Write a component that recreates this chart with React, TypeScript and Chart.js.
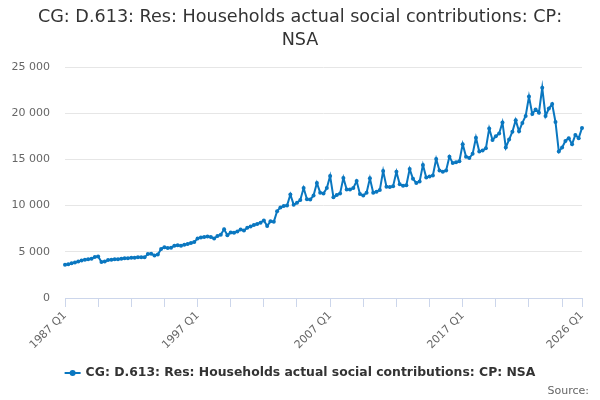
import React, { useEffect, useRef } from "react";
import { Chart, registerables } from "chart.js";

Chart.register(...registerables);

const TITLE_LINES = ["CG: D.613: Res: Households actual social contributions: CP:", "NSA"];
const SERIES_NAME = "CG: D.613: Res: Households actual social contributions: CP: NSA";
const SOURCE_TEXT = "Source:";

const FIRST_YEAR = 1987;
const LAST_YEAR = 2026;
const LAST_QUARTER = 1;

const quarterLabels: string[] = [];
for (let y = FIRST_YEAR; y <= LAST_YEAR; y++) {
  for (let q = 1; q <= 4; q++) {
    if (y === LAST_YEAR && q > LAST_QUARTER) break;
    quarterLabels.push(`${y} Q${q}`);
  }
}

const seriesValues = [
  3600, 3650, 3750, 3850, 3950, 4050, 4150, 4200, 4250, 4450,
  4500, 3900, 3950, 4100, 4150, 4200, 4200, 4250, 4300, 4300,
  4350, 4350, 4400, 4400, 4400, 4750, 4800, 4600, 4700, 5300,
  5500, 5400, 5450, 5650, 5700, 5650, 5750, 5850, 5950, 6050,
  6450, 6550, 6600, 6650, 6600, 6450, 6700, 6850, 7450, 6800,
  7100, 7050, 7200, 7400, 7300, 7600, 7750, 7900, 8000, 8150,
  8400, 7800, 8300, 8250, 9400, 9800, 9950, 10000, 11200, 10100,
  10300, 10600, 11900, 10700, 10650, 11100, 12450, 11400, 11300, 11900,
  13200, 10900, 11150, 11300, 13000, 11750, 11750, 11900, 12650, 11250,
  11100, 11400, 12950, 11400, 11500, 11700, 13750, 12050, 12000, 12100,
  13650, 12300, 12150, 12200, 13950, 12900, 12450, 12600, 14400, 13050,
  13150, 13250, 15050, 13800, 13650, 13800, 15300, 14600, 14700, 14800,
  16650, 15300, 15150, 15600, 17350, 15850, 15950, 16200, 18350, 17100,
  17500, 17800, 19000, 16300, 17150, 18000, 19250, 18050, 18950, 19700,
  21800, 19900, 20400, 20050, 22750, 19700, 20500, 21000, 19050, 15850,
  16300, 17000, 17300, 16650, 17650, 17300, 18400,
];

const Y_TICKS = [0, 5000, 10000, 15000, 20000, 25000];
const X_TICK_LABELS = [
  "1987 Q1", "1989 Q3", "1992 Q1", "1994 Q3", "1997 Q1", "1999 Q3", "2002 Q1", "2004 Q3",
  "2007 Q1", "2009 Q3", "2012 Q1", "2014 Q3", "2017 Q1", "2019 Q3", "2022 Q1", "2024 Q3", "2026 Q1",
];
const X_SHOWN_LABELS = ["1987 Q1", "1997 Q1", "2007 Q1", "2017 Q1", "2026 Q1"];

const LINE_COLOR = "#0a77c0";
const FONT = '"DejaVu Sans", sans-serif';

function formatThousands(v: number): string {
  return String(v).replace(/\B(?=(\d{3})+(?!\d))/g, " ");
}

const textPlugin = {
  id: "textPlugin",
  afterDraw(chart: any) {
    const ctx = chart.ctx;
    ctx.save();
    ctx.fillStyle = "#333333";
    ctx.font = `17.6px ${FONT}`;
    ctx.textAlign = "center";
    ctx.textBaseline = "middle";
    TITLE_LINES.forEach((line, i) => ctx.fillText(line, 300, 17 + i * 23));

    ctx.font = `bold 12.4px ${FONT}`;
    const w = ctx.measureText(SERIES_NAME).width;
    const total = 16 + 5 + w;
    const x0 = 300 - total / 2;
    const ly = 373;
    ctx.strokeStyle = LINE_COLOR;
    ctx.lineWidth = 2;
    ctx.beginPath();
    ctx.moveTo(x0, ly);
    ctx.lineTo(x0 + 16, ly);
    ctx.stroke();
    ctx.fillStyle = LINE_COLOR;
    ctx.beginPath();
    ctx.arc(x0 + 8, ly, 3, 0, Math.PI * 2);
    ctx.fill();
    ctx.fillStyle = "#333333";
    ctx.textAlign = "left";
    ctx.fillText(SERIES_NAME, x0 + 21, ly);

    ctx.font = `11px ${FONT}`;
    ctx.fillStyle = "#666666";
    ctx.textAlign = "right";
    ctx.fillText(SOURCE_TEXT, 589, 391);
    ctx.restore();
  },
};

export default function App() {
  const canvasRef = useRef<HTMLCanvasElement | null>(null);

  useEffect(() => {
    document.body.style.margin = "0";
    const canvas = canvasRef.current;
    if (!canvas) return;
    const chart = new Chart(canvas, {
      type: "line",
      data: {
        labels: quarterLabels,
        datasets: [
          {
            label: SERIES_NAME,
            data: seriesValues,
            borderColor: LINE_COLOR,
            backgroundColor: LINE_COLOR,
            borderWidth: 2,
            pointRadius: 2,
            pointBorderWidth: 0,
            pointBackgroundColor: LINE_COLOR,
            pointHoverRadius: 0,
            tension: 0,
          },
        ],
      },
      options: {
        animation: false,
        responsive: false,
        events: [],
        layout: { padding: { top: 67, right: 18, bottom: 50, left: 0 } },
        plugins: {
          legend: { display: false },
          title: { display: false },
          tooltip: { enabled: false },
        },
        scales: {
          x: {
            type: "category",
            offset: false,
            grid: {
              drawOnChartArea: false,
              color: "#ccd6eb",
              tickColor: "#ccd6eb",
              tickLength: 9,
            },
            border: { color: "#ccd6eb", width: 1 },
            afterBuildTicks(scale: any) {
              scale.ticks = X_TICK_LABELS.map((l) => ({ value: quarterLabels.indexOf(l) }));
            },
            afterFit(scale: any) {
              scale.height = 52;
            },
            ticks: {
              autoSkip: false,
              maxRotation: 45,
              minRotation: 45,
              padding: 2,
              color: "#666666",
              font: { family: FONT, size: 11 },
              callback(value: any) {
                const lbl = quarterLabels[value as number];
                return X_SHOWN_LABELS.includes(lbl) ? lbl : "";
              },
            },
          },
          y: {
            min: 0,
            max: 25000,
            afterBuildTicks(scale: any) {
              scale.ticks = Y_TICKS.map((v) => ({ value: v }));
            },
            afterFit(scale: any) {
              scale.width = 65;
            },
            grid: {
              drawTicks: false,
              color: (c: any) => (c.tick && c.tick.value === 0 ? "rgba(0,0,0,0)" : "#e6e6e6"),
            },
            border: { display: false },
            ticks: {
              padding: 15,
              color: "#666666",
              font: { family: FONT, size: 11 },
              callback: (v: any) => formatThousands(Number(v)),
            },
          },
        },
      },
      plugins: [textPlugin],
    });
    return () => chart.destroy();
  }, []);

  return (
    <div style={{ position: "relative", width: 600, height: 400, background: "#ffffff" }}>
      <canvas ref={canvasRef} width={600} height={400} style={{ width: 600, height: 400 }} />
    </div>
  );
}
